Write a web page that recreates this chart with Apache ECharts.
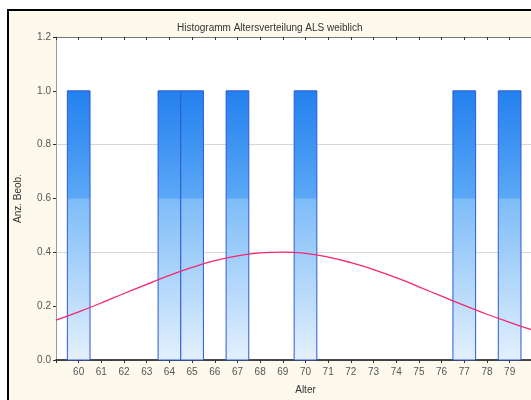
<!DOCTYPE html>
<html>
<head>
<meta charset="utf-8">
<script src="https://cdn.jsdelivr.net/npm/echarts@6/dist/echarts.min.js"></script>
<style>
  html, body { margin: 0; padding: 0; background: #ffffff; overflow: hidden; }
  #chart { width: 600px; height: 400px; }
</style>
</head>
<body>
<div id="chart"></div>
<script>
// Ages with one observation each (histogram, bin width 1)
const ages = [60, 64, 65, 67, 70, 77, 79];
const counts = [1, 1, 1, 1, 1, 1, 1];

// Fitted normal curve, sampled per year of age
const curveAges = [59, 60, 61, 62, 63, 64, 65, 66, 67, 68, 69, 70, 71, 72, 73, 74, 75, 76, 77, 78, 79, 80, 81];
const curveValues = [0.148, 0.179, 0.212, 0.247, 0.281, 0.314, 0.344, 0.369, 0.387, 0.398, 0.401, 0.396, 0.382,
                     0.362, 0.336, 0.306, 0.272, 0.237, 0.203, 0.170, 0.140, 0.112, 0.088];

// Axis settings
const xMin = 59, xMax = 81;
const xFirstLabel = 60, xLastLabel = 79;
const yMin = 0, yMax = 1.2, yStep = 0.2;

const FONT = 'Liberation Sans';

const barData = ages.map((a, i) => [a, counts[i]]);
const curveData = curveAges.map((a, i) => [a, curveValues[i]]);

const barFill = {
  type: 'linear', x: 0, y: 0, x2: 0, y2: 1,
  colorStops: [
    { offset: 0, color: '#2380ee' },
    { offset: 0.4, color: '#5ba8f6' },
    { offset: 0.401, color: '#7dbcf8' },
    { offset: 1, color: '#e3f0fd' }
  ]
};

const chart = echarts.init(document.getElementById('chart'), null, { renderer: 'canvas' });

chart.setOption({
  animation: false,
  backgroundColor: '#ffffff',
  graphic: [{
    type: 'rect',
    z: -10,
    shape: { x: 8, y: 10, width: 640, height: 440 },
    style: { fill: '#fdf9ec', stroke: '#000000', lineWidth: 2 }
  }],
  title: {
    text: 'Histogramm Altersverteilung ALS weiblich',
    left: 172, top: 18,
    textStyle: { fontFamily: FONT, fontSize: 10, fontWeight: 'normal', color: '#333' }
  },
  grid: {
    left: 56, top: 37, width: 499, height: 326,
    show: true, backgroundColor: '#ffffff', borderWidth: 0
  },
  xAxis: [{
    type: 'value', min: xMin, max: xMax, interval: 1,
    name: 'Alter', nameLocation: 'middle', nameGap: 25,
    nameTextStyle: { fontFamily: FONT, fontSize: 10, color: '#333' },
    axisLine: { show: true, onZero: false, lineStyle: { color: '#111', width: 1.5 } },
    axisTick: { show: true, length: 3, lineStyle: { color: '#333' } },
    axisLabel: {
      fontFamily: FONT, fontSize: 10, color: '#555', margin: 7,
      formatter: v => (v >= xFirstLabel && v <= xLastLabel ? String(v) : '')
    },
    splitLine: { show: false }
  }, {
    type: 'value', min: xMin, max: xMax, interval: 1, position: 'top',
    axisLine: { show: true, onZero: false, lineStyle: { color: '#777' } },
    axisTick: { show: true, inside: true, length: 3, lineStyle: { color: '#333' } },
    axisLabel: { show: false },
    splitLine: { show: false }
  }],
  yAxis: [{
    type: 'value', min: yMin, max: yMax, interval: yStep,
    name: 'Anz. Beob.', nameLocation: 'middle', nameGap: 33,
    nameTextStyle: { fontFamily: FONT, fontSize: 10, color: '#333' },
    axisLine: { show: true, lineStyle: { color: '#999' } },
    axisTick: { show: true, length: 3, lineStyle: { color: '#333' } },
    axisLabel: { fontFamily: FONT, fontSize: 10, color: '#555', margin: 5, formatter: v => v.toFixed(1) },
    splitLine: { show: false }
  }, {
    type: 'value', min: yMin, max: yMax, interval: 0.4,
    position: 'right', show: true,
    axisLine: { show: false }, axisTick: { show: false }, axisLabel: { show: false },
    splitLine: { show: true, lineStyle: { color: '#d6d6d6', width: 1 } }
  }],
  series: [{
    type: 'custom',
    xAxisIndex: 0, yAxisIndex: 0,
    data: barData,
    z: 2,
    renderItem: function (params, api) {
      const x = api.value(0), y = api.value(1);
      const p0 = api.coord([x - 0.5, y]);
      const p1 = api.coord([x + 0.5, 0]);
      return {
        type: 'rect',
        shape: { x: p0[0], y: p0[1], width: p1[0] - p0[0], height: p1[1] - p0[1] },
        style: { fill: barFill, stroke: '#2f58d6', lineWidth: 1 }
      };
    }
  }, {
    type: 'line',
    xAxisIndex: 0, yAxisIndex: 0,
    data: curveData,
    smooth: true,
    showSymbol: false,
    z: 5,
    lineStyle: { color: '#f4286f', width: 1.3 }
  }]
});
</script>
</body>
</html>
